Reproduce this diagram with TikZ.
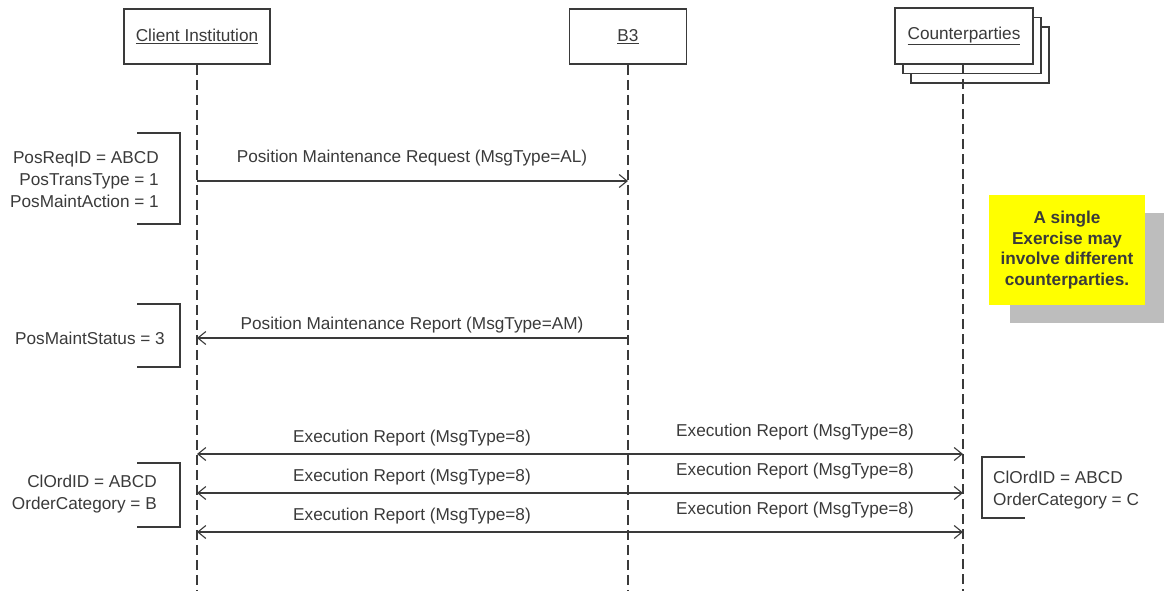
\documentclass[tikz,border=0pt]{standalone}
\usepackage{fontspec}
\setmainfont{Liberation Sans}
\usetikzlibrary{arrows.meta}
\definecolor{ink}{HTML}{3A3A3A}
\definecolor{notefill}{HTML}{FFFF00}
\definecolor{shadowgray}{HTML}{BDBDBD}
\begin{document}
\begin{tikzpicture}[x=1pt,y=-1pt,
  every node/.style={font=\fontsize{17.2}{22}\selectfont, text=ink, inner sep=0pt},
  actor/.style={draw=ink, line width=1.6pt, fill=white, rectangle},
  life/.style={draw=ink, line width=1.2pt, dash pattern=on 10pt off 5pt},
  msg/.style={draw=ink, line width=1.1pt, -{Straight Barb[length=8pt,width=13pt,line width=1.1pt]}},
  brk/.style={draw=ink, line width=1.4pt, line join=miter}]
\useasboundingbox (0,0) rectangle (1164,591);

% lifeline ends
\coordinate (ciend) at (197,591);
\coordinate (b3end) at (628,591);
\coordinate (cpend) at (963,591);

% actors
\node[actor, minimum width=146pt, minimum height=55pt] (ci) at (197,36.5) {\underline{Client Institution}};
\node[actor, minimum width=117pt, minimum height=55pt] (b3) at (628,36.5) {\underline{B3}};
\node[actor, minimum width=138pt, minimum height=56pt] (cp3) at (980,55) {};
\node[actor, minimum width=138pt, minimum height=56pt] (cp2) at (972,45.5) {};
\node[actor, minimum width=138pt, minimum height=56pt] (cp) at (964,36) {\underline{Counterparties}};

% lifelines
\draw[life] (ci.south) -- (ciend);
\draw[life] (b3.south) -- (b3end);
\draw[life] (963,64) -- (cpend);

% message 1
\coordinate (m1a) at (197,181);
\coordinate (m1b) at (628,181);
\draw[msg] (m1a) -- (m1b);
\node (l1) at (412,158) {Position Maintenance Request (MsgType=AL)};

% message 2
\coordinate (m2a) at (628,338);
\coordinate (m2b) at (197,338);
\draw[msg] (m2a) -- (m2b);
\node (l2) at (412,325) {Position Maintenance Report (MsgType=AM)};

% execution reports
\foreach \y/\i in {454/1,493/2,532/3}{
  \coordinate (eb\i) at (628,\y);
  \coordinate (ec\i) at (197,\y);
  \coordinate (ep\i) at (963,\y);
  \draw[msg] (eb\i) -- (ec\i);
  \draw[msg] (eb\i) -- (ep\i);
  \node (el\i) at (412,\y-16) {Execution Report (MsgType=8)};
  \node (er\i) at (795,\y-22) {Execution Report (MsgType=8)};
}

% brackets and annotations
\draw[brk] (137,133) -- (180,133) -- (180,224) -- (137,224);
\node[anchor=east, align=right] (n1) at (159,180) {PosReqID = ABCD\\PosTransType = 1\\PosMaintAction = 1};

\draw[brk] (137,304) -- (180,304) -- (180,367) -- (137,367);
\node[anchor=east] (n2) at (165,338) {PosMaintStatus = 3};

\draw[brk] (137,463) -- (180,463) -- (180,527) -- (137,527);
\node[anchor=east, align=right] (n3) at (157,494) {ClOrdID = ABCD\\OrderCategory = B};

\draw[brk] (1025,457) -- (982,457) -- (982,518) -- (1025,518);
\node[anchor=west, align=left] (n4) at (993,490) {ClOrdID = ABCD\\OrderCategory = C};

% note
\fill[shadowgray] (1010,213) rectangle (1164,323);
\fill[notefill] (989,195) rectangle (1145,305);
\node[font=\fontsize{17.2}{20.7}\selectfont\bfseries, align=center] (note) at (1067,250) {A single\\Exercise may\\involve different\\counterparties.};
\end{tikzpicture}
\end{document}
